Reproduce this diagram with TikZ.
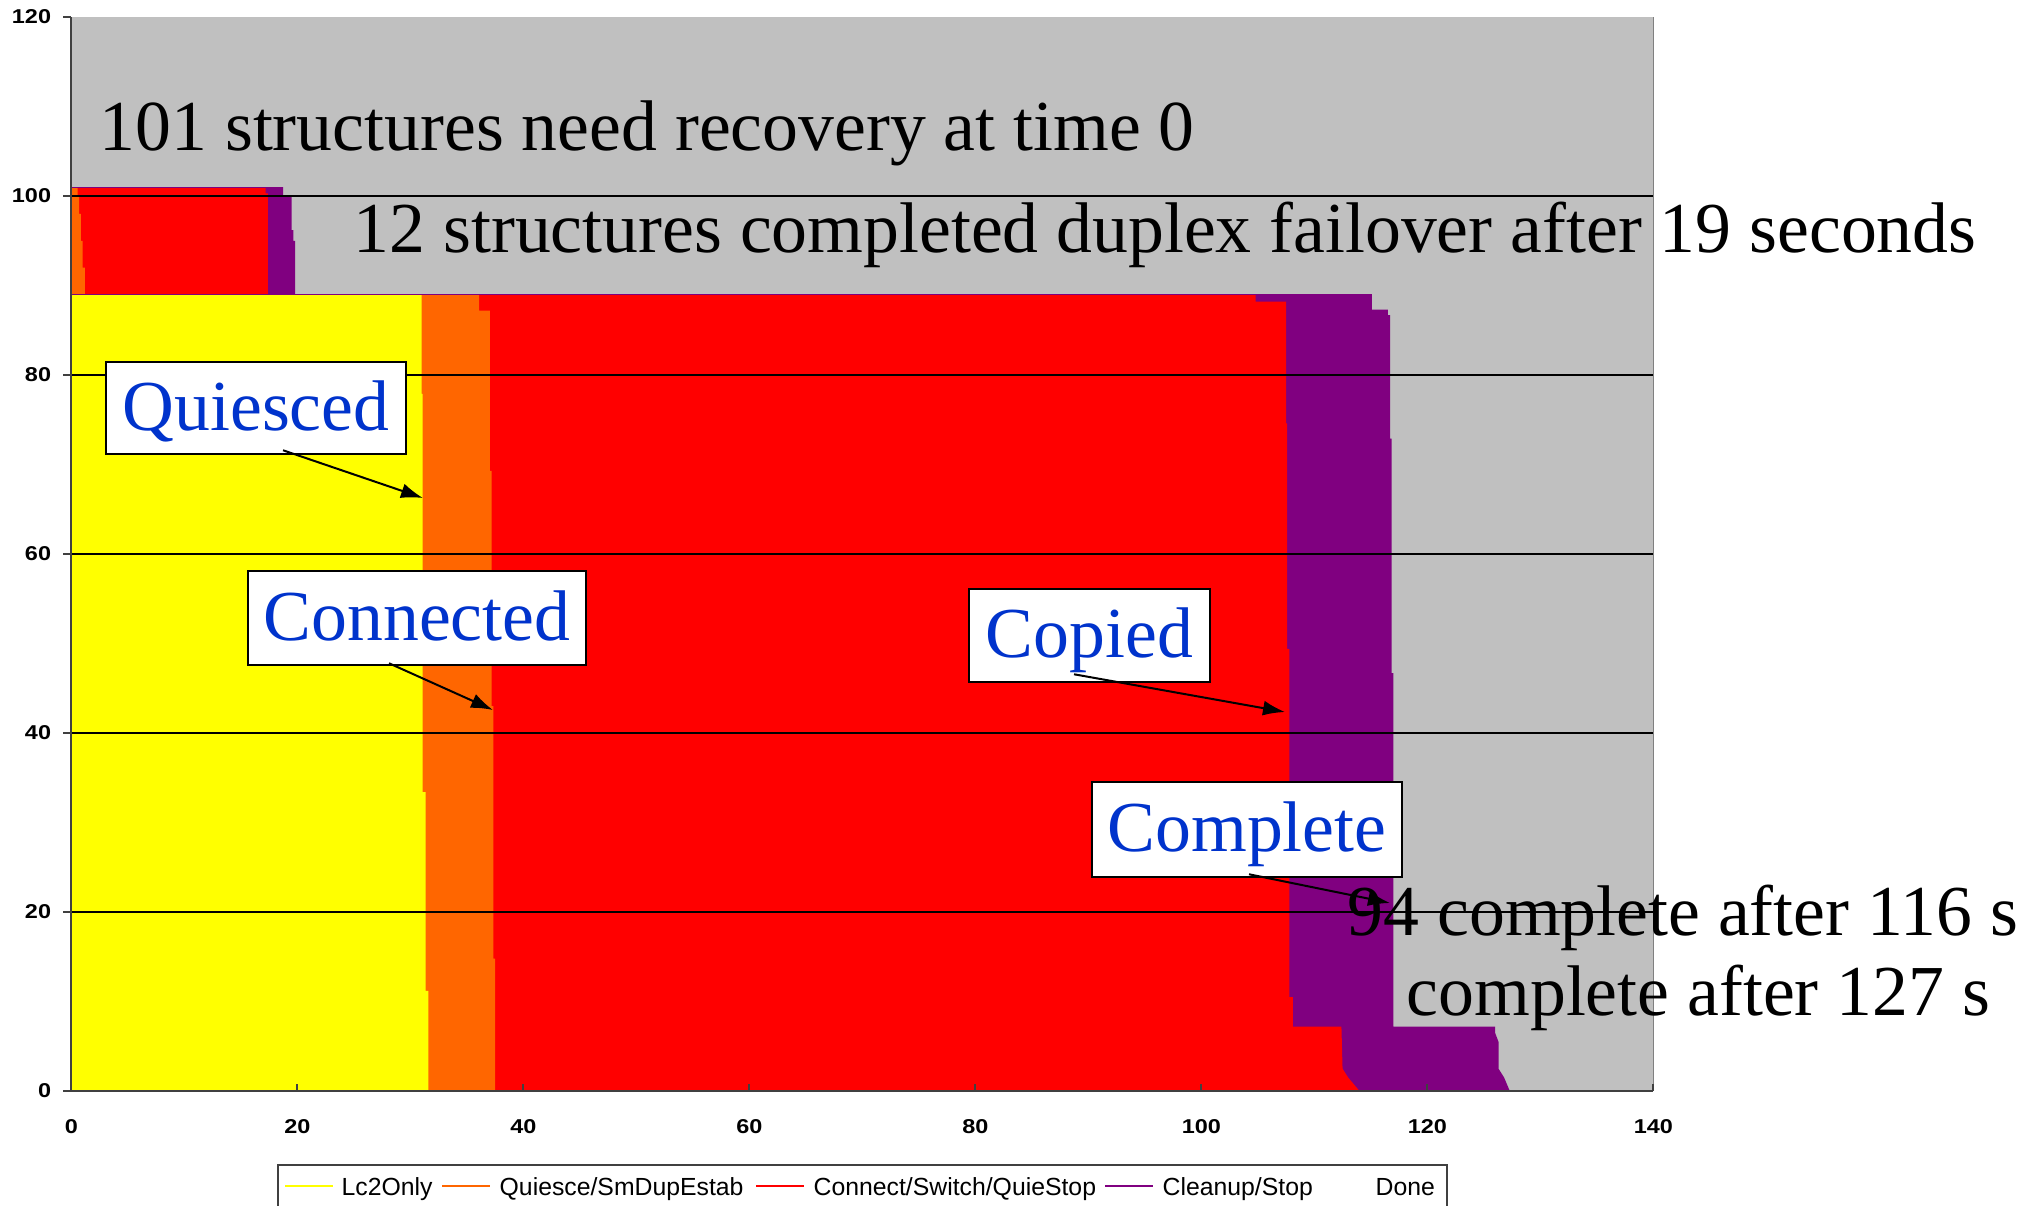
\documentclass[tikz,border=0pt]{standalone}
\usepackage{fontspec}
\setmainfont{Liberation Serif}
\newfontfamily\chartsans{Liberation Sans}
\usetikzlibrary{arrows.meta,calc}

\definecolor{lcyellow}{RGB}{255,255,0}
\definecolor{qorange}{RGB}{255,102,0}
\definecolor{cred}{RGB}{255,0,0}
\definecolor{cpurple}{RGB}{128,0,128}
\definecolor{donegray}{RGB}{192,192,192}
\definecolor{labelblue}{RGB}{0,51,204}
\definecolor{axisgray}{RGB}{64,64,64}

\newcommand\ticknum[1]{\scalebox{1.17}[1]{#1}}

\tikzset{
  bigtext/.style={font=\fontsize{20.4}{24}\selectfont, inner sep=0, anchor=base west},
  labelbox/.style={draw=black, line width=0.25mm, fill=white, text=labelblue,
    font=\fontsize{20.4}{24}\selectfont, inner sep=0, text height=4.7mm, text depth=0.3mm},
  pointer/.style={black, line width=0.2mm, -{Latex[length=2.2mm,width=1.5mm]}},
  gridline/.style={black, line width=0.2mm},
  axisline/.style={axisgray, line width=0.2mm},
  ticklabel/.style={font=\chartsans\bfseries\fontsize{5.7}{6.5}\selectfont, inner sep=0},
  legendtext/.style={font=\chartsans\fontsize{7.05}{8.5}\selectfont, inner sep=0, anchor=base west},
  legendkey/.style={line width=0.2mm},
}

\begin{document}
\begin{tikzpicture}[x=0.1mm, y=-0.1mm]
  % canvas: 2034 x 1205 units, y grows downward
  \useasboundingbox (0,0) rectangle (2034,1205);
  \fill[white] (0,0) rectangle (2034,1205);

  % ---------- chart in data coordinates (seconds, structures) ----------
  \begin{scope}[shift={(71.3,1091)}, x=1.13mm, y=0.895mm]
    \fill[donegray] (0,0) rectangle (140,120);

    % lower group: 89 structures
    \fill[cpurple] (0,0) -- (0,89) -- (115.1,89) -- (115.1,87.3) -- (116.5,87.3) -- (116.5,86.7)
      -- (116.7,86.7) -- (116.7,72.9) -- (116.85,72.9) -- (116.85,46.7) -- (117.0,46.7)
      -- (117.0,7.2) -- (126.0,7.2) -- (126.0,6.5) -- (126.3,5.5) -- (126.3,2.5) -- (126.8,1.5)
      -- (127.3,0) -- cycle;
    \fill[cred] (0,0) -- (0,89) -- (104.8,89) -- (104.8,88.2) -- (107.5,88.2) -- (107.5,74.6)
      -- (107.6,74.6) -- (107.6,49.4) -- (107.8,49.4) -- (107.8,10.5) -- (108.1,10.5)
      -- (108.1,7.2) -- (112.4,7.2) -- (112.5,2.5) -- (113.0,1.5) -- (114.0,0) -- cycle;
    \fill[qorange] (0,0) -- (0,89) -- (36.1,89) -- (36.1,87.2) -- (37.05,87.2) -- (37.05,69.3)
      -- (37.2,69.3) -- (37.2,43) -- (37.35,43) -- (37.35,14.8) -- (37.5,14.8) -- (37.5,0) -- cycle;
    \fill[lcyellow] (0,0) -- (0,89) -- (31.0,89) -- (31.0,77.9) -- (31.1,77.9) -- (31.1,33.4)
      -- (31.35,33.4) -- (31.35,11.2) -- (31.6,11.2) -- (31.6,0) -- cycle;

    % upper group: 12 structures with duplex failover
    \fill[cpurple] (0,89) -- (0,101) -- (18.75,101) -- (18.75,100.1) -- (19.5,100.1) -- (19.5,96.2)
      -- (19.65,96.2) -- (19.65,95) -- (19.8,95) -- (19.8,89) -- cycle;
    \fill[cred] (0,89) -- (0,101) -- (17.2,101) -- (17.2,100.3) -- (17.4,100.3) -- (17.4,89) -- cycle;
    \fill[qorange] (0,89) -- (0,101) -- (0.55,101) -- (0.55,100) -- (0.7,100) -- (0.7,98)
      -- (0.85,98) -- (0.85,95) -- (1.0,95) -- (1.0,92) -- (1.2,92) -- (1.2,89) -- cycle;

    % thin series outlines
    \draw[cpurple, line width=0.1mm] (0,89) -- (115.1,89);
    \draw[cpurple, line width=0.1mm] (0,101) -- (18.75,101);

    % plot edge
    \draw[gray, line width=0.1mm] (140,0) -- (140,120);

    % gridlines
    \foreach \k in {20,40,...,100} \draw[gridline] (0,\k) -- (140,\k);

    % axes and ticks
    \draw[axisline] (0,0) -- (0,120);
    \draw[axisline] (-0.73,0) -- (140,0);
    \foreach \k in {0,20,...,120} \draw[axisline] (-0.73,\k) -- (0,\k);
    \foreach \k in {20,40,...,140} \draw[axisline] (\k,0) -- (\k,0.8);

    % tick labels
    \foreach \k in {0,20,...,120}
      \node[ticklabel, anchor=east] (ylab\k) at (-1.73,\k) {\ticknum{\k}};
    \foreach \k in {0,20,...,140}
      \node[ticklabel] (xlab\k) at (\k,-3.92) {\ticknum{\k}};
  \end{scope}

  % ---------- annotations ----------
  \node[bigtext] (total) at (99,150) {101 structures need recovery at time 0};
  \node[bigtext] (duplex) at (353,252) {12 structures completed duplex failover after 19 seconds};
  \node[bigtext] (done94) at (1347,935) {94 complete after 116 s};
  \node[bigtext] (done101) at (1406,1015) {complete after 127 s};

  % stage callouts
  \node[labelbox, minimum width=30mm, minimum height=9.2mm] (quiesced) at (256,408) {Quiesced};
  \node[labelbox, minimum width=33.8mm, minimum height=9.4mm] (connected) at (417,618) {Connected};
  \node[labelbox, minimum width=24.1mm, minimum height=9.3mm] (copied) at (1089.5,635.5) {Copied};
  \node[labelbox, minimum width=31mm, minimum height=9.5mm] (complete) at (1247,829.5) {Complete};

  \coordinate (qtip) at (423,498);
  \coordinate (cntip) at (493,710);
  \coordinate (cptip) at (1285,712);
  \coordinate (cmtip) at (1390,903);

  \draw[pointer] ($(quiesced.south)+(27,-5)$) -- (qtip);
  \draw[pointer] ($(connected.south)+(-28,-3)$) -- (cntip);
  \draw[pointer] ($(copied.south)+(-15.5,-9)$) -- (cptip);
  \draw[pointer] ($(complete.south)+(2,-4)$) -- (cmtip);

  % ---------- legend ----------
  \draw[axisline] (277.7,1210) -- (277.7,1165) -- (1447,1165) -- (1447,1210);
  \draw[legendkey, lcyellow] (285,1186) -- (333,1186);
  \node[legendtext] (lg1) at (341,1195) {Lc2Only};
  \draw[legendkey, qorange] (442,1186) -- (490,1186);
  \node[legendtext] (lg2) at (499,1195) {Quiesce/SmDupEstab};
  \draw[legendkey, cred] (756,1186) -- (804,1186);
  \node[legendtext] (lg3) at (813,1195) {Connect/Switch/QuieStop};
  \draw[legendkey, cpurple] (1105,1186) -- (1153,1186);
  \node[legendtext] (lg4) at (1162,1195) {Cleanup/Stop};
  \node[legendtext] (lg5) at (1375,1195) {Done};
\end{tikzpicture}
\end{document}
